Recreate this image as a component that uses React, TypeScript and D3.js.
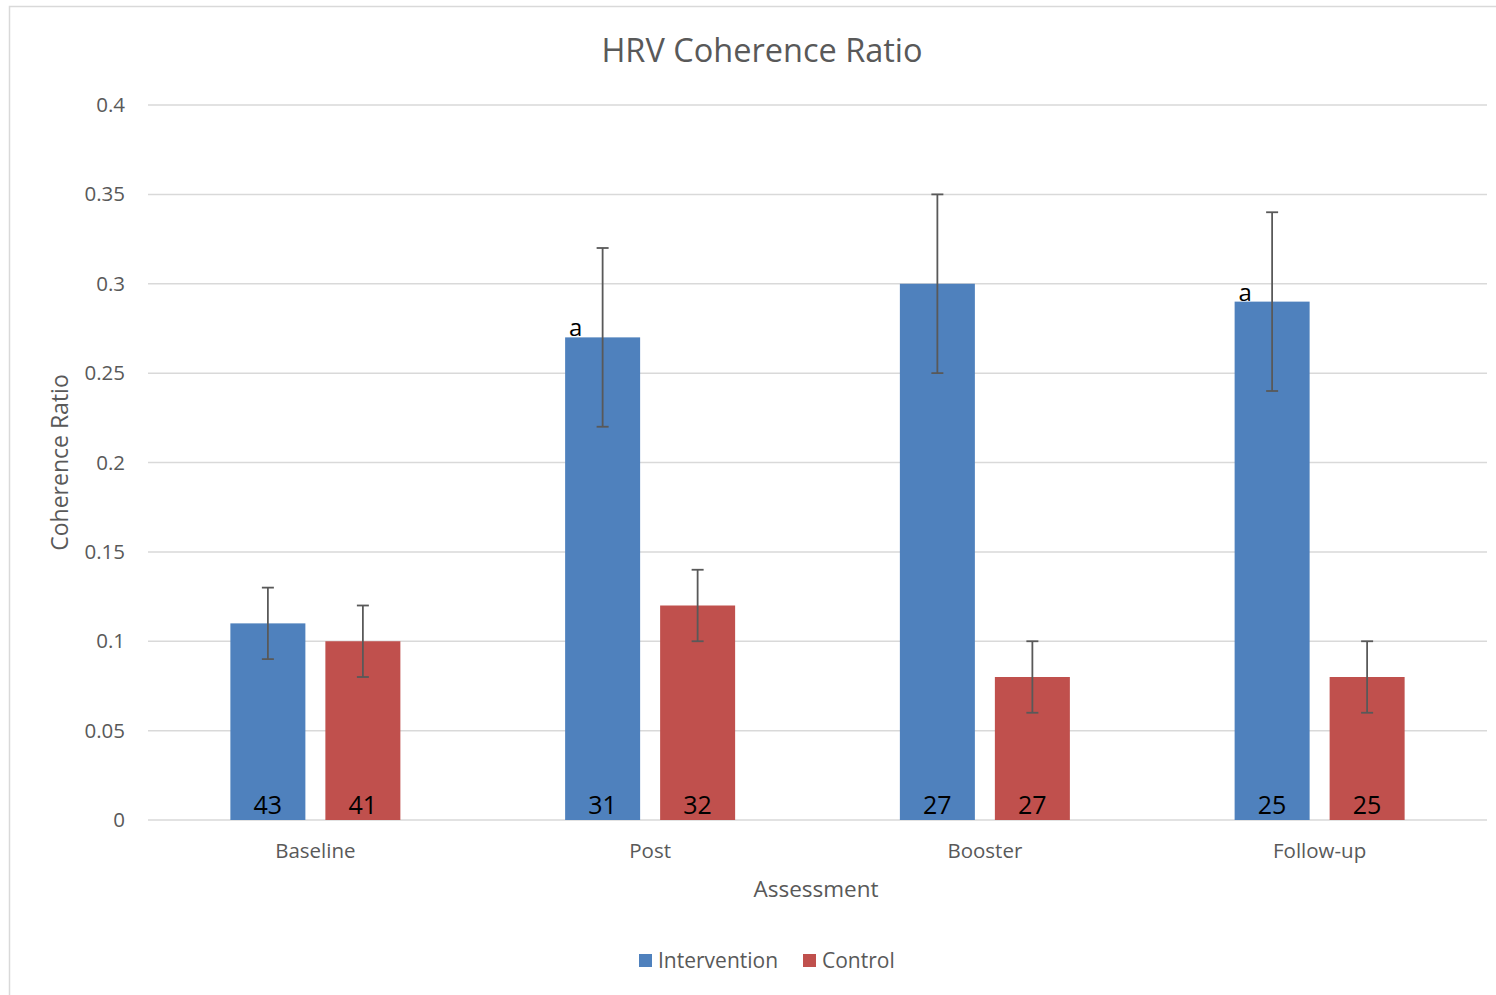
import React from "react";
import * as d3 from "d3";

const categories = ["Baseline", "Post", "Booster", "Follow-up"];
const seriesNames = ["Intervention", "Control"];
const interventionValues = [0.11, 0.27, 0.30, 0.29];
const controlValues = [0.10, 0.12, 0.08, 0.08];
const interventionErr = [0.02, 0.05, 0.05, 0.05];
const controlErr = [0.02, 0.02, 0.02, 0.02];
const interventionN = ["43", "31", "27", "25"];
const controlN = ["41", "32", "27", "25"];
const interventionMark = ["", "a", "", "a"];
const yTicks = [0, 0.05, 0.1, 0.15, 0.2, 0.25, 0.3, 0.35, 0.4];
const yTickLabels = ["0", "0.05", "0.1", "0.15", "0.2", "0.25", "0.3", "0.35", "0.4"];
const colors = ["#4F81BD", "#C0504D"];

const W = 1496;
const H = 995;
const plotLeft = 148;
const plotRight = 1487;
const plotTop = 105;
const plotBottom = 820;
const FONT = "'Open Sans', 'Noto Sans', sans-serif";
const GREY = "#595959";

export default function App() {
  const x0 = d3.scaleBand<string>().domain(categories).range([plotLeft, plotRight]).padding(0);
  const bw = x0.bandwidth();
  const barW = 75;
  const gap = 20;
  const x1 = d3
    .scaleBand<string>()
    .domain(seriesNames)
    .range([bw / 2 - barW - gap / 2, bw / 2 + barW + gap / 2])
    .paddingInner(gap / (barW + gap))
    .paddingOuter(0);
  const y = d3.scaleLinear().domain([0, 0.4]).range([plotBottom, plotTop]);

  const series = [
    { name: seriesNames[0], values: interventionValues, err: interventionErr, n: interventionN, mark: interventionMark, color: colors[0] },
    { name: seriesNames[1], values: controlValues, err: controlErr, n: controlN, mark: ["", "", "", ""], color: colors[1] },
  ];

  return (
    <svg width={W} height={H} style={{ position: "absolute", left: 0, top: 0, display: "block" }}>
      <rect x={0} y={0} width={W} height={H} fill="#fff" />
      <path d={`M9.5,${H + 5} V6.5 H${W + 5}`} fill="none" stroke="#D9D9D9" strokeWidth={1.5} />
      <text x={762} y={62} textAnchor="middle" fontFamily={FONT} fontSize={32.5} fill={GREY}>
        HRV Coherence Ratio
      </text>
      {yTicks.map((t, i) => (
        <g key={i}>
          <line x1={plotLeft} x2={plotRight} y1={y(t)} y2={y(t)} stroke="#D9D9D9" strokeWidth={1.5} />
          <text x={125} y={y(t) + 7} textAnchor="end" fontFamily={FONT} fontSize={20.5} fill={GREY}>
            {yTickLabels[i]}
          </text>
        </g>
      ))}
      <text
        transform={`translate(68,${(plotTop + plotBottom) / 2}) rotate(-90)`}
        textAnchor="middle"
        fontFamily={FONT}
        fontSize={23}
        fill={GREY}
      >
        Coherence Ratio
      </text>
      {categories.map((c, ci) => (
        <g key={c}>
          {series.map((s) => {
            const bx = (x0(c) as number) + (x1(s.name) as number);
            const cx = bx + x1.bandwidth() / 2;
            const v = s.values[ci];
            const e = s.err[ci];
            return (
              <g key={s.name}>
                <rect x={bx} y={y(v)} width={x1.bandwidth()} height={y(0) - y(v)} fill={s.color} />
                <line x1={cx} x2={cx} y1={y(v + e)} y2={y(v - e)} stroke={GREY} strokeWidth={1.8} />
                <line x1={cx - 6} x2={cx + 6} y1={y(v + e)} y2={y(v + e)} stroke={GREY} strokeWidth={1.8} />
                <line x1={cx - 6} x2={cx + 6} y1={y(v - e)} y2={y(v - e)} stroke={GREY} strokeWidth={1.8} />
                <text x={cx} y={y(0) - 6} textAnchor="middle" fontFamily={FONT} fontSize={25} fill="#000">
                  {s.n[ci]}
                </text>
                {s.mark[ci] ? (
                  <text x={cx - 27} y={y(v) - 1} textAnchor="middle" fontFamily={FONT} fontSize={24} fill="#000">
                    {s.mark[ci]}
                  </text>
                ) : null}
              </g>
            );
          })}
          <text
            x={(x0(c) as number) + bw / 2}
            y={858}
            textAnchor="middle"
            fontFamily={FONT}
            fontSize={20.5}
            fill={GREY}
          >
            {c}
          </text>
        </g>
      ))}
      <text x={816} y={897} textAnchor="middle" fontFamily={FONT} fontSize={22.5} fill={GREY}>
        Assessment
      </text>
      <g>
        <rect x={639} y={954} width={13} height={13} fill={colors[0]} />
        <text x={658} y={968} fontFamily={FONT} fontSize={21} fill={GREY}>
          {seriesNames[0]}
        </text>
        <rect x={803} y={954} width={13} height={13} fill={colors[1]} />
        <text x={822} y={968} fontFamily={FONT} fontSize={21} fill={GREY}>
          {seriesNames[1]}
        </text>
      </g>
    </svg>
  );
}
